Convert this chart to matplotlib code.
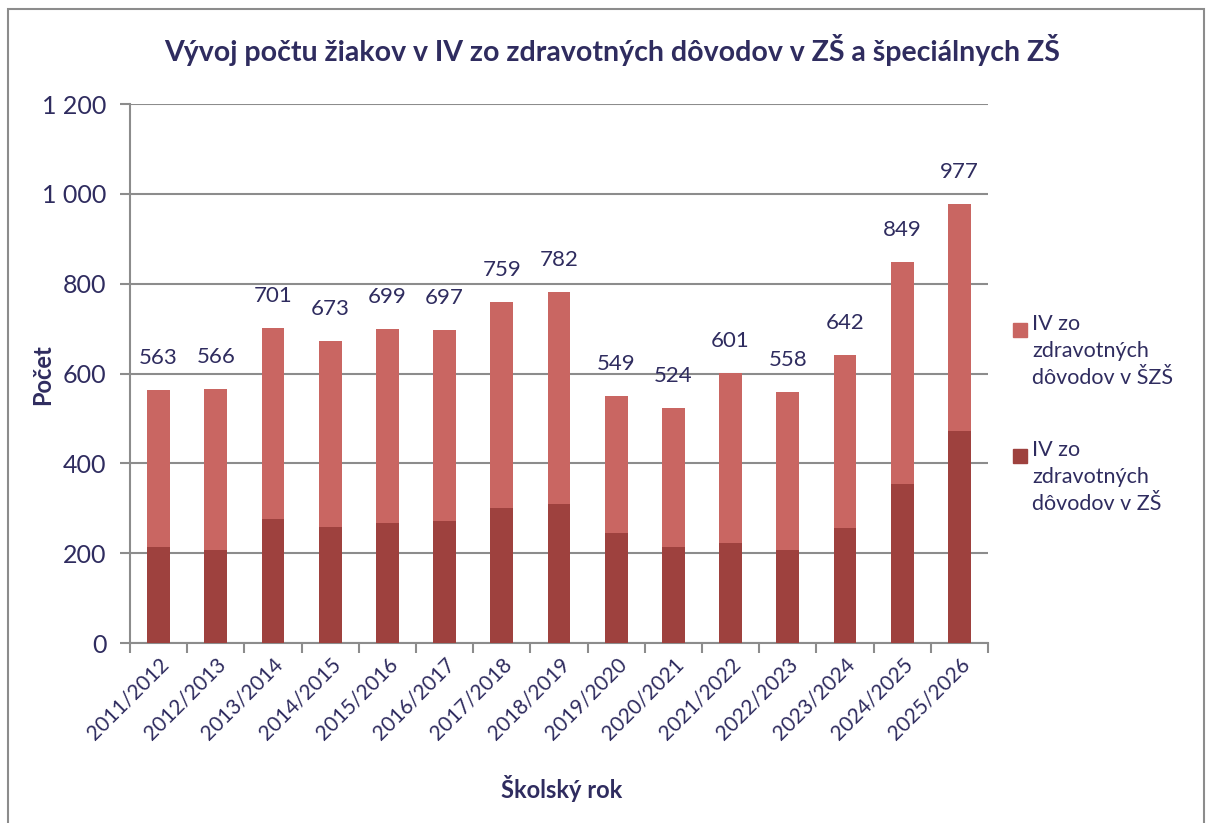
import matplotlib
matplotlib.use("Agg")
import matplotlib.pyplot as plt
from matplotlib.patches import Rectangle
import numpy as np

plt.rcParams['font.family'] = ['Lato', 'DejaVu Sans']

# data
roky = ["2011/2012", "2012/2013", "2013/2014", "2014/2015", "2015/2016",
        "2016/2017", "2017/2018", "2018/2019", "2019/2020", "2020/2021",
        "2021/2022", "2022/2023", "2023/2024", "2024/2025", "2025/2026"]
spolu = [563, 566, 701, 673, 699, 697, 759, 782, 549, 524, 601, 558, 642, 849, 977]
zs = [213, 207, 277, 259, 268, 271, 300, 309, 244, 213, 222, 208, 257, 353, 471]
szs = [s - z for s, z in zip(spolu, zs)]

navy = "#2F2C5F"
gray = "#8C8C8C"
c_szs = "#C96662"
c_zs = "#9E413E"

fig = plt.figure(figsize=(12.08, 8.23), dpi=100)
ax = fig.add_axes([0.1076, 0.2187, 0.7103, 0.6549])

x = np.arange(len(roky))
ax.bar(x, zs, 0.4, color=c_zs, zorder=3)
ax.bar(x, szs, 0.4, bottom=zs, color=c_szs, zorder=3)

for xi, s in zip(x, spolu):
    ax.annotate(str(s), (xi, s), xytext=(0, 23), textcoords="offset points",
                ha="center", va="center", fontsize=16, color=navy)

ax.set_xlim(-0.5, len(roky) - 0.5)
ax.set_ylim(0, 1200)
ax.set_yticks(range(0, 1201, 200))
ax.set_yticklabels([f"{v:,}".replace(",", " ") for v in range(0, 1201, 200)],
                   fontsize=18, color=navy)
ax.yaxis.grid(True, color=gray, linewidth=1.5, zorder=0)
ax.set_axisbelow(True)

ax.set_xticks(x)
ax.set_xticklabels(roky, rotation=45, ha="right", rotation_mode="anchor",
                   fontsize=15, color=navy)
ax.set_xticks(np.arange(-0.5, len(roky), 1), minor=True)
ax.tick_params(axis="x", which="major", length=0, pad=8)
ax.tick_params(axis="x", which="minor", length=7, color=gray, width=1.5)
ax.tick_params(axis="y", length=7, color=gray, width=1.5, pad=10)

for sp in ["top", "right"]:
    ax.spines[sp].set_visible(False)
for sp in ["left", "bottom"]:
    ax.spines[sp].set_color(gray)
    ax.spines[sp].set_linewidth(1.5)

fig.text(0.5066, 0.939, "Vývoj počtu žiakov v IV zo zdravotných dôvodov v ZŠ a špeciálnych ZŠ",
         ha="center", va="center", fontsize=20.5, fontweight="bold", color=navy)
fig.text(0.035, 0.545, "Počet", rotation=90, ha="center", va="center",
         fontsize=17, fontweight="bold", color=navy)
fig.text(0.4652, 0.042, "Školský rok", ha="center", va="center",
         fontsize=17, fontweight="bold", color=navy)

# legend drawn by hand (Excel style, marker at first line)
leg = [("IV zo\nzdravotných\ndôvodov v ŠZŠ", c_szs, 330),
       ("IV zo\nzdravotných\ndôvodov v ZŠ", c_zs, 456)]
for txt, col, ypx in leg:
    fig.patches.append(Rectangle((1013 / 1208, 1 - (ypx + 7) / 823), 14 / 1208, 14 / 823,
                                 transform=fig.transFigure, color=col))
    fig.text(1032 / 1208, 1 - (ypx - 16) / 823, txt, ha="left", va="top",
             fontsize=15.5, color=navy, linespacing=1.45)

# outer frame of the chart
fig.patches.append(Rectangle((8 / 1208, -0.05), 1196 / 1208, 1.05 - 9 / 823,
                             transform=fig.transFigure, fill=False,
                             edgecolor=gray, linewidth=1.5))

fig.savefig("out.png", dpi=100)
